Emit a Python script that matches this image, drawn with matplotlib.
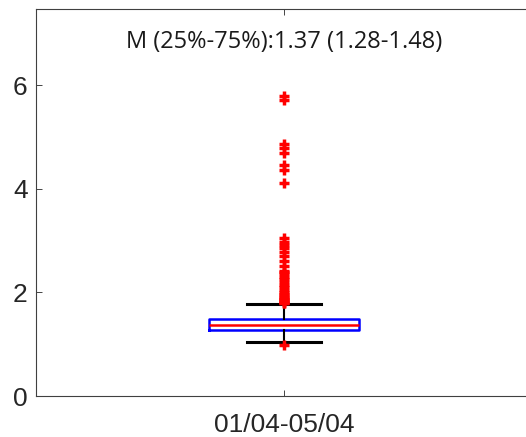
import matplotlib
matplotlib.use("Agg")
import matplotlib.pyplot as plt

category = "01/04-05/04"
median = 1.37
q1 = 1.28
q3 = 1.48
whisker_low = 1.05
whisker_high = 1.78
outliers = [5.80, 5.71, 4.86, 4.78, 4.69, 4.46, 4.37, 4.11,
            3.05, 2.98, 2.92, 2.85, 2.78, 2.70, 2.60, 2.50, 2.42, 2.40,
            2.35, 2.30, 2.25, 2.20, 2.15, 2.10, 2.05, 2.00, 1.97, 1.95,
            1.92, 1.90, 1.88, 1.86, 1.84, 1.82, 1.80, 1.79, 0.98]
y_ticks = [0, 2, 4, 6]
annotation = "M (25%-75%):1.37 (1.28-1.48)"

fig = plt.figure(figsize=(5.26, 4.37), dpi=100)
ax = fig.add_axes([36/526, 41/437, 496/526, 387/437])

stats = [dict(med=median, q1=q1, q3=q3, whislo=whisker_low, whishi=whisker_high,
              fliers=outliers, label=category)]
ax.bxp(stats, positions=[1], widths=0.304, showfliers=True,
       boxprops=dict(color="#0000ff", linewidth=1.8),
       medianprops=dict(color="#ff0000", linewidth=1.8),
       whiskerprops=dict(color="black", linewidth=1.5),
       capprops=dict(color="black", linewidth=2.2),
       capwidths=0.148,
       flierprops=dict(marker="+", markeredgecolor="#ff0000", markersize=7,
                       markeredgewidth=2.5, linestyle="none"))

ax.set_xlim(0.5, 1.5)
ax.set_ylim(0, 7.47)
ax.set_yticks(y_ticks)
ax.set_yticklabels([str(t) for t in y_ticks])
ax.tick_params(direction="in", length=4, width=0.6, colors="#262626",
               labelsize=19, labelcolor="#262626", top=True, right=True)
ax.tick_params(axis="x", pad=12)
ax.tick_params(axis="y", pad=6)
for lab in ax.get_xticklabels() + ax.get_yticklabels():
    lab.set_family("Liberation Sans")
for s in ax.spines.values():
    s.set_color("#404040")
    s.set_linewidth(0.8)
ax.spines["right"].set_visible(False)

ax.text(0.5, 0.915, annotation, transform=ax.transAxes, ha="center", va="center",
        fontsize=17, family="Open Sans", color="#1a1a1a")

fig.savefig("out.png", dpi=100)
